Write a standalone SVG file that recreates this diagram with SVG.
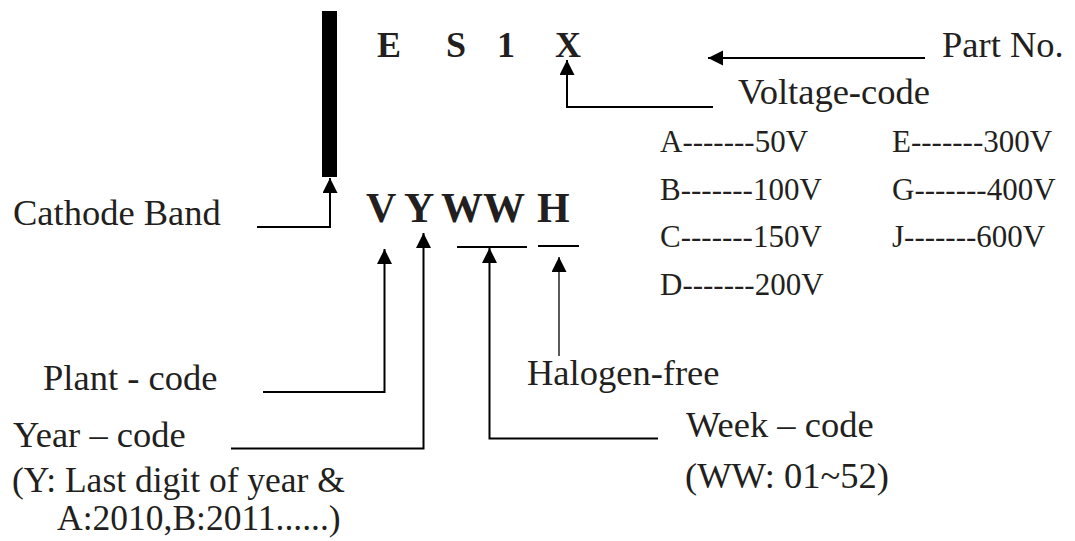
<svg xmlns="http://www.w3.org/2000/svg" width="1075" height="541" viewBox="0 0 1075 541">
  <style>
    .t { font-family: "Liberation Serif", "Times New Roman", serif; font-size: 36.5px; fill: #231f20; }
    .t2 { font-family: "Liberation Serif", "Times New Roman", serif; font-size: 35.5px; fill: #231f20; }
    .v { font-family: "Liberation Serif", "Times New Roman", serif; font-size: 31px; fill: #231f20; }
    .b1 { font-family: "Liberation Serif", "Times New Roman", serif; font-size: 36px; font-weight: bold; fill: #231f20; }
    .b2 { font-family: "Liberation Serif", "Times New Roman", serif; font-size: 42px; font-weight: bold; fill: #231f20; }
    .c { fill: none; stroke: #000; stroke-width: 2; }
    .thin { fill: none; stroke: #000; stroke-width: 1.3; }
  </style>
  <defs>
    <marker id="ah" markerUnits="userSpaceOnUse" markerWidth="16" markerHeight="16" refX="15" refY="7.5" orient="auto">
      <path d="M0,0 L15,7.5 L0,15 z" fill="#000"/>
    </marker>
  </defs>

  <g id="cathode-band">
    <rect x="322" y="11" width="15" height="166" fill="#000"/>
  </g>

  <g id="part-code">
    <text class="b1" x="377 422 446 480 497 530 555" y="57">E S 1 X</text>
  </g>

  <g id="marking-code">
    <text class="b2" x="366" y="222">V</text>
    <text class="b2" x="404" y="222">Y</text>
    <text class="b2" x="441" y="222">WW</text>
    <text class="b2" x="537" y="222">H</text>
    <path class="c" d="M457,247 H527"/>
    <path class="c" d="M538,246 H579"/>
  </g>

  <g id="label-part-no"><text class="t" x="942" y="57">Part No.</text></g>
  <g id="label-voltage-code">
    <text class="t" x="738" y="104">Voltage-code</text>
    <text class="v" x="660" y="152">A-------50V</text>
    <text class="v" x="660" y="199.5">B-------100V</text>
    <text class="v" x="660" y="247">C-------150V</text>
    <text class="v" x="660" y="295">D-------200V</text>
    <text class="v" x="892" y="152">E-------300V</text>
    <text class="v" x="892" y="199.5">G-------400V</text>
    <text class="v" x="892" y="247">J-------600V</text>
  </g>
  <g id="label-cathode-band"><text class="t" x="13" y="225">Cathode Band</text></g>
  <g id="label-plant-code"><text class="t" x="43" y="390">Plant - code</text></g>
  <g id="label-halogen-free"><text class="t" x="527" y="385">Halogen-free</text></g>
  <g id="label-year-code">
    <text class="t" x="13" y="447">Year – code</text>
    <text class="t2" x="12" y="492">(Y: Last digit of year &amp;</text>
    <text class="t2" x="57" y="530">A:2010,B:2011......)</text>
  </g>
  <g id="label-week-code">
    <text class="t" x="686" y="437">Week – code</text>
    <text class="t" x="685" y="488">(WW: 01~52)</text>
  </g>

  <g id="connectors">
    <path class="c" d="M257,227 H330 V178" marker-end="url(#ah)"/>
    <path class="c" d="M925,58 H708" marker-end="url(#ah)"/>
    <path class="c" d="M713,107 H567 V60" marker-end="url(#ah)"/>
    <path class="c" d="M263,392 H384.5 V249" marker-end="url(#ah)"/>
    <path class="c" d="M231,448.5 H423.5 V233" marker-end="url(#ah)"/>
    <path class="c" d="M658,438.5 H489.5 V248" marker-end="url(#ah)"/>
    <path class="thin" d="M559,356 V257" marker-end="url(#ah)"/>
  </g>
</svg>
